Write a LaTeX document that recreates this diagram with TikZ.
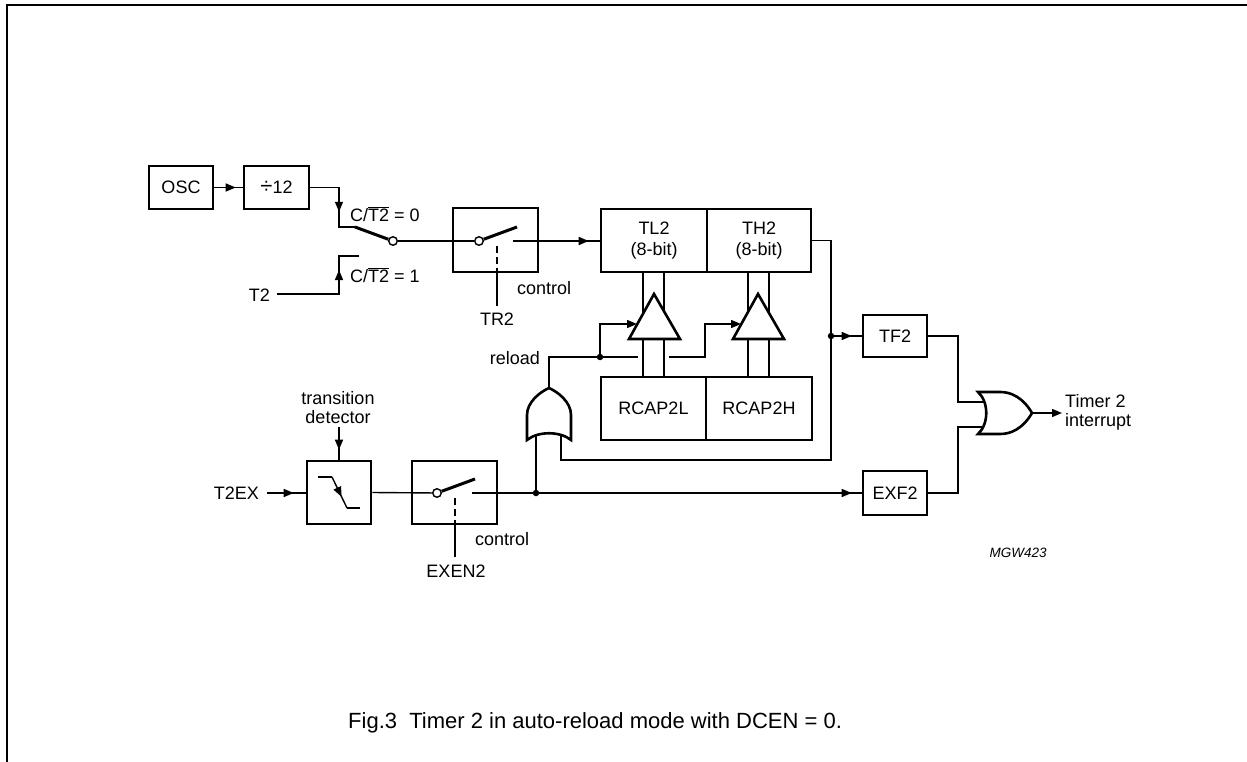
\documentclass[tikz,border=0pt]{standalone}
\usepackage{fontspec}
\setmainfont{Liberation Sans}
\usetikzlibrary{arrows.meta,decorations.markings,calc}
\newcommand\ovl[1]{$\overline{\hbox{#1}}$}
\begin{document}
\begin{tikzpicture}[x=1pt,y=-1pt,
 >={Triangle[length=10pt,width=8pt]},
 box/.style={draw,line width=2.6pt,inner sep=0pt,font=\fontsize{18}{21}\selectfont,align=center},
 wire/.style={line width=1.4pt},
 lbl/.style={inner sep=0pt,font=\fontsize{18}{19}\selectfont,align=center},
 arr/.style={postaction={decorate},decoration={markings,mark=at position #1 with {\arrow{>}}}},
 arr/.default=-9pt,
 jdot/.style={circle,fill,inner sep=0pt,minimum size=6.5pt},
 pivot/.style={circle,draw,line width=1.4pt,fill=white,inner sep=0pt,minimum size=8.5pt},
 blade/.style={line width=3pt},
 gate/.style={line width=2.6pt,fill=white},
 dsh/.style={line width=1.4pt,dash pattern=on 7pt off 4pt},
]
\useasboundingbox (0,0) rectangle (1247,762);
% frame
\draw[line width=2.4pt] (7,762) -- (7,5) -- (1247,5);

% oscillator and divider
\node[box,minimum width=64pt,minimum height=43pt] (osc) at (181,187.5) {OSC};
\node[box,minimum width=65pt,minimum height=43pt] (div) at (276.5,187.5) {{\fontsize{22}{21}\selectfont ÷}12};
\draw[wire,arr=-7pt] (osc) -- (div);

% C/T2 selector switch
\coordinate (s1a) at (339,227);
\coordinate (s1aE) at (355,227);
\coordinate (s1b) at (339,256);
\coordinate (s1bE) at (359,256);
\coordinate (t2s) at (277,294);
\node[pivot] (c1) at (393,241) {};
\draw[wire,arr=53pt] (div.east) -| (s1a) -- (s1aE);
\draw[blade] (s1aE) -- (c1);
\draw[wire,arr=86pt] (t2s) -| (s1b) -- (s1bE);
\node[lbl,anchor=east] (t2) at (270,295) {T2};
\node[lbl,anchor=west] (ct0) at (350,214) {C/\ovl{T2} = 0};
\node[lbl,anchor=west] (ct1) at (350,275) {C/\ovl{T2} = 1};

% TR2 switch
\node[box,minimum width=85pt,minimum height=64pt] (sw1) at (495.5,240) {};
\node[pivot] (c2) at (479,241) {};
\coordinate (b2) at (517,227);
\coordinate (o2) at (513,241);
\draw[wire] (c1) -- (c2);
\draw[blade] (c2) -- (b2);
\coordinate (d2a) at (497,246);
\coordinate (d2b) at (497,272);
\coordinate (d2c) at (497,306);
\draw[dsh] (d2a) -- (d2b);
\draw[wire] (d2b) -- (d2c);
\node[lbl] (tr2) at (497,319) {TR2};
\node[lbl,anchor=west] (ctl1) at (517,288) {control};

% timer registers
\node[box,minimum width=106pt,minimum height=63pt] (tl2) at (654,240.5) {TL2\\(8-bit)};
\node[box,minimum width=104pt,minimum height=63pt] (th2) at (759,240.5) {TH2\\(8-bit)};
\draw[wire,arr=-11pt] (o2) -- (o2 -| tl2.west);

\node[box,minimum width=105pt,minimum height=63pt] (rcl) at (653.5,408.5) {RCAP2L};
\node[box,minimum width=106pt,minimum height=63pt] (rch) at (759,408.5) {RCAP2H};

% reload buses
\foreach \x in {643,664,748,769}{
  \draw[wire] (\x,272) -- (\x,377);
}
\draw[gate] (629,339) -- (654,294) -- (680,339) -- cycle;
\draw[gate] (733,339) -- (758,294) -- (784,339) -- cycle;

% reload network
\coordinate (rtip) at (549,388);
\coordinate (rk) at (549,357);
\coordinate (rg1) at (638,357);
\node[jdot] (d1) at (600,357) {};
\coordinate (rg2) at (669,357);
\draw[wire] (rtip) -- (rk) -- (rg1);
\draw[wire,->] (d1.center) -- (600,324) -- (637,324);
\draw[wire,->] (rg2) -- (705,357) -- (705,324) -- (741,324);
\node[lbl,anchor=east] (rlbl) at (540,358) {reload};

% TH2 overflow
\coordinate (ov1) at (831,240.5);
\coordinate (ov2) at (831,460);
\coordinate (ov3) at (561,460);
\node[jdot] (d3) at (831,336) {};
\draw[wire] (th2.east) -- (ov1) -- (ov2) -- (ov3) -- (561,436);
\node[box,minimum width=64pt,minimum height=42pt] (tf2) at (895,336) {TF2};
\draw[wire,arr=-10pt] (d3.center) -- (tf2.west);

% transition detector
\node[box,minimum width=64pt,minimum height=63pt] (det) at (339,492.5) {};
\node[lbl] (tdl) at (338,407.5) {transition\\detector};
\coordinate (tda) at (339,427);
\draw[wire,arr=-10pt] (tda) -- (det.north);
\draw[wire] (318,477) -- (332,477);
\draw[wire,arr=0.64] (332,477) -- (347,508);
\draw[wire] (347,508) -- (360,508);
\node[lbl,anchor=east] (t2ex) at (259,493) {T2EX};
\coordinate (t2exs) at (267,493);
\draw[wire,arr=-12pt] (t2exs) -- (t2exs -| det.west);

% EXEN2 switch
\node[box,minimum width=85pt,minimum height=63pt] (sw2) at (454.5,492.5) {};
\node[pivot] (c3) at (437,493) {};
\coordinate (b3) at (475,479);
\coordinate (o3) at (472,493);
\draw[wire] (det.east) -- (c3);
\draw[blade] (c3) -- (b3);
\draw[dsh] (455,498) -- (455,524);
\draw[wire] (455,524) -- (455,557);
\node[lbl] (exen) at (456,571) {EXEN2};
\node[lbl,anchor=west] (ctl2) at (475,539) {control};
\node[box,minimum width=64pt,minimum height=44pt] (exf2) at (895,493) {EXF2};
\node[jdot] (d4) at (536,493) {};
\draw[wire,arr=-10pt] (o3) -- (exf2.west);
\draw[wire] (d4.center) -- (536,436);

% reload OR gate (pointing up)
\draw[gate] (527,440) .. controls (538,431) and (560,431) .. (571,440) -- (571,415)
  .. controls (571,402) and (558,392) .. (549,388)
  .. controls (540,392) and (527,402) .. (527,415) -- cycle;

% interrupt OR gate
\draw[wire] (tf2.east) -- (958,336) -- (958,402) -- (985,402);
\draw[wire] (exf2.east) -- (958,493) -- (958,427) -- (985,427);
\draw[gate] (978,392) .. controls (989,402) and (989,424) .. (978,434) -- (1000,434)
  .. controls (1018,434) and (1028,420) .. (1032,413)
  .. controls (1028,406) and (1018,392) .. (1000,392) -- cycle;
\coordinate (gout) at (1032,413);
\coordinate (gend) at (1062,413);
\draw[wire,->] (gout) -- (gend);
\node[lbl,anchor=west,align=left] (tint) at (1065,412) {Timer 2\\interrupt};

\node[font=\itshape\fontsize{13.5}{15}\selectfont] (mgw) at (1018,553) {MGW423};
\node[anchor=west,inner sep=0pt,font=\fontsize{22}{26}\selectfont] (cap) at (348,723) {Fig.3\ \ Timer 2 in auto-reload mode with DCEN = 0.};
\end{tikzpicture}
\end{document}
